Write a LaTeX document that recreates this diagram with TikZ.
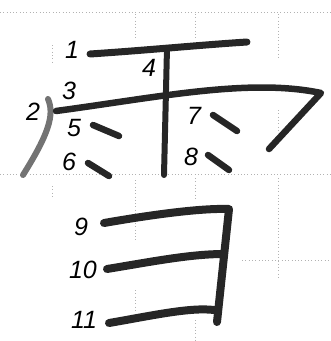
\documentclass[tikz,border=0pt]{standalone}
\usepackage{fontspec}
\setmainfont{Liberation Sans}
\begin{document}
\begin{tikzpicture}[x=1pt,y=-1pt,
  brush/.style={line width=6.5pt,line cap=round,line join=round,draw=black!85},
  dot/.style={draw=black!30,line width=0.6pt,dash pattern=on 0.8pt off 2.5pt},
  num/.style={font=\fontsize{25}{25}\selectfont\itshape,inner sep=0pt,anchor=center}]
\useasboundingbox (0,0) rectangle (331,341);
% guide lines
\draw[dot] (0,12) -- (331,12);
\draw[dot] (0,174) -- (331,174);
\draw[dot] (135,14) -- (135,40);
\draw[dot] (195,14) -- (195,40);
\draw[dot] (278,14) -- (278,60);
\draw[dot] (278,110) -- (278,130);
\draw[dot] (135,180) -- (135,240);
\draw[dot] (135,290) -- (135,310);
\draw[dot] (195,178) -- (195,200);
\draw[dot] (195,320) -- (195,341);
\draw[dot] (278,178) -- (278,280);
\draw[dot] (242,260) -- (331,260);
\draw[dot] (52,45) -- (52,62);
\draw[dot] (52,186) -- (52,196);
% strokes
\draw[brush,line width=7pt] (90,54) .. controls (150,50) and (200,45) .. (247,42);
\draw[brush,line width=6pt] (167,48) -- (164,175);
\draw[brush,draw=black!55,line width=6pt] (48,99) .. controls (55,115) and (48,135) .. (23,175);
\draw[brush,line width=6.5pt] (56,111) .. controls (160,97) and (250,78) .. (321,93) -- (269,149);
\draw[brush] (93,125) -- (119,136);
\draw[brush] (88,163) -- (109,176);
\draw[brush] (213,115) -- (237,131);
\draw[brush] (208,155) -- (229,170);
\draw[brush,line width=8pt] (104,223) .. controls (150,215) and (200,208) .. (229,209) -- (217,322);
\draw[brush,line width=8pt] (107,269) .. controls (150,262) and (190,254) .. (224,254);
\draw[brush,line width=8pt] (109,323) .. controls (150,316) and (190,307) .. (214,310);
% numbers
\node[num] (n1) at (72,50) {1};
\node[num] (n4) at (149,68) {4};
\node[num] (n3) at (69,91) {3};
\node[num] (n2) at (33,112) {2};
\node[num] (n5) at (74,128) {5};
\node[num] (n6) at (69,162) {6};
\node[num] (n7) at (194,116) {7};
\node[num] (n8) at (191,157) {8};
\node[num] (n9) at (81,227) {9};
\node[num] (n10) at (83,270) {10};
\node[num] (n11) at (84,320) {11};
\end{tikzpicture}
\end{document}
